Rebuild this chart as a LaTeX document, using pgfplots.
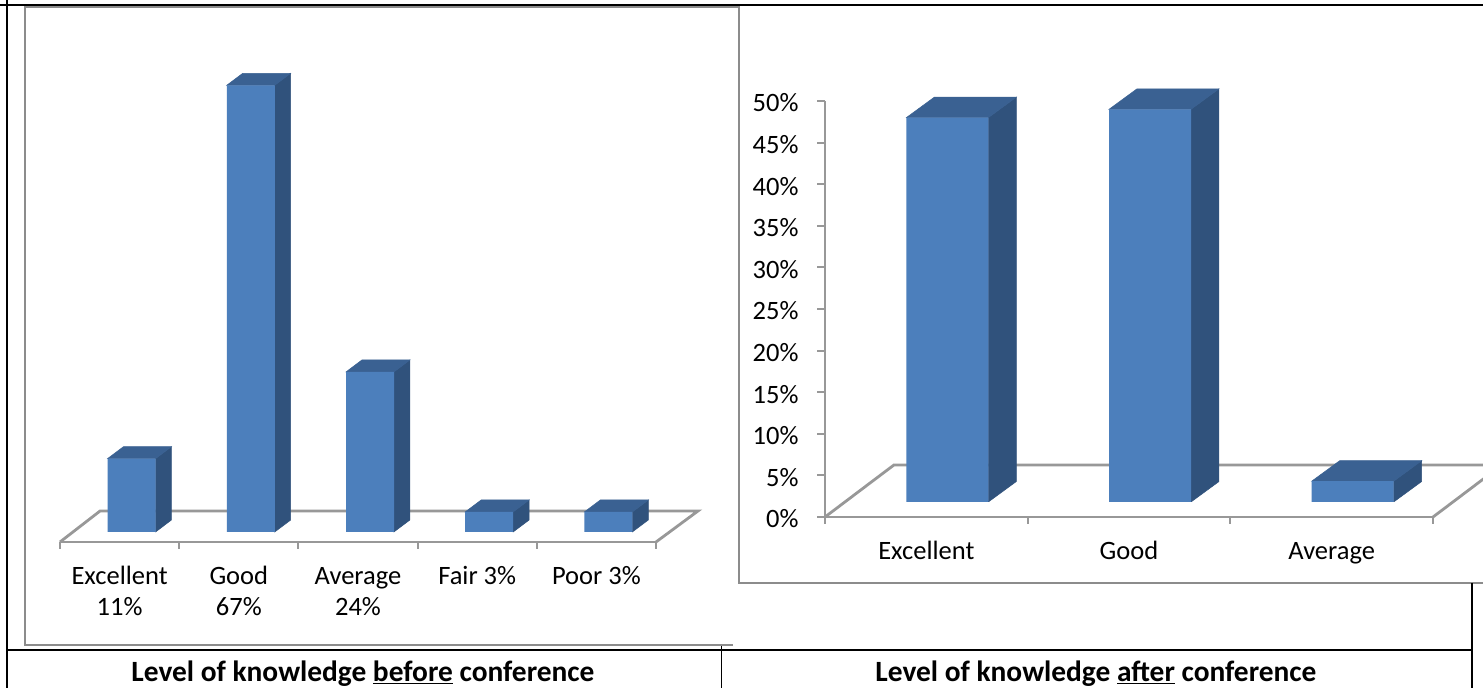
\documentclass[border=0pt]{standalone}
\usepackage{fontspec}
\setmainfont{Carlito}
\usepackage{pgfplots}
\pgfplotsset{compat=1.18}

\definecolor{barfront}{HTML}{4C7FBC}
\definecolor{bartop}{HTML}{3A6192}
\definecolor{barside}{HTML}{30527C}
\definecolor{axisgray}{HTML}{989898}
\definecolor{framegray}{HTML}{8C8C8C}

% side and top face of one 3D bar: center, base, value
\newcommand{\barfaces}[3]{%
  \pgfmathsetmacro\xa{#1+\off-\hw}%
  \pgfmathsetmacro\xb{#1+\off+\hw}%
  \pgfmathsetmacro\xc{\xb+\dpx}%
  \pgfmathsetmacro\xd{\xa+\dpx}%
  \pgfmathsetmacro\yb{#2+\dpy}%
  \pgfmathsetmacro\yt{#3+\dpy}%
  \addplot[fill=barside,draw=barside,line width=0.5pt] coordinates {(\xb,#2)(\xc,\yb)(\xc,\yt)(\xb,#3)} --cycle;
  \addplot[fill=bartop,draw=bartop,line width=0.5pt] coordinates {(\xa,#3)(\xb,#3)(\xc,\yt)(\xd,\yt)} --cycle;
}

\pgfplotsset{
  chart/.style={
    scale only axis,
    clip=false,
    xtick style={draw=none},
    minor tick length=7pt,
    major tick length=8pt,
    tick align=outside,
    minor x tick style={draw=axisgray,line width=2pt},
    y tick style={draw=axisgray,line width=2pt},
    axis line style={draw=axisgray,line width=2.8pt,-},
    tick label style={font=\fontsize{26.5}{31}\selectfont,text=black},
    x tick label style={align=center,yshift=-9pt},
    y tick label style={xshift=-15pt,yshift=-2pt},
  },
}

\begin{document}
\begin{tikzpicture}[x=1pt,y=1pt]
\clip (0,0) rectangle (1483,688);
\fill[white] (0,0) rectangle (1483,688);

% chart frames
\draw[framegray,line width=2pt] (733,43) -- (25,43) -- (25,681) -- (739,681);
\draw[framegray,line width=2pt] (739,682) -- (739,105) -- (1483,105);

% before conference
\begin{axis}[
  at={(60pt,146pt)},anchor=south west,
  width=596pt,height=476.67pt,
  xmin=-0.5,xmax=4.5,ymin=-1.5,ymax=70,
  axis x line=bottom,axis y line=none,
  xtick={0,1,2,3,4},
  minor xtick={-0.5,0.5,1.5,2.5,3.5,4.5},
  xticklabels={{\strut Excellent\\\strut 11\%},{\strut Good\\\strut 67\%},{\strut Average\\\strut 24\%},{\strut Fair 3\%},{\strut Poor 3\%}},
  chart,
]
\def\off{0.1}\def\hw{0.2013}\def\dpx{0.134}\def\dpy{1.8}
\addplot[axisgray,line width=2.8pt,no marks] coordinates {(-0.5,-1.5)(-0.164,3.15)(4.852,3.15)(4.5,-1.5)};
\barfaces{0}{0}{11}
\barfaces{1}{0}{67}
\barfaces{2}{0}{24}
\barfaces{3}{0}{3}
\barfaces{4}{0}{3}
\addplot[ybar,fill=barfront,draw=none,bar width=48pt,bar shift=12pt] coordinates {(0,11)(1,67)(2,24)(3,3)(4,3)};
\end{axis}

% after conference: axes and floor
\begin{axis}[
  at={(825pt,171pt)},anchor=south west,
  width=608pt,height=416pt,
  xmin=-0.5,xmax=2.5,ymin=0,ymax=50,
  axis x line=bottom,axis y line=left,
  xtick={0,1,2},
  minor xtick={-0.5,0.5,1.5,2.5},
  xticklabels={\strut Excellent,\strut Good,\strut Average},
  ytick={0,5,...,50},
  /pgf/number format/assume math mode=true,
  yticklabel={\pgfmathprintnumber{\tick}\%},
  chart,
]
\addplot[axisgray,line width=2.8pt,no marks] coordinates {(-0.5,0)(-0.16,6.25)(2.84,6.25)(2.5,0)};
\end{axis}

% after conference: bars, standing on the floor at 1.8
\begin{axis}[
  scale only axis,hide axis,
  at={(825pt,186pt)},anchor=south west,
  width=608pt,height=442.6pt,
  xmin=-0.5,xmax=2.5,ymin=1.8,ymax=55,
]
\def\off{0.1036}\def\hw{0.2023}\def\dpx{0.138}\def\dpy{2.46}
\barfaces{0}{1.8}{48}
\barfaces{1}{1.8}{49}
\barfaces{2}{1.8}{4.3}
\addplot[ybar,fill=barfront,draw=none,bar width=82pt,bar shift=21pt] coordinates {(0,48)(1,49)(2,4.3)};
\end{axis}

% table rules
\draw[black,line width=2pt] (0,682.5) -- (1483,682.5);
\draw[black,line width=2pt] (6.5,688) -- (6.5,0);
\draw[black,line width=1.6pt] (6.5,38) -- (1473,38);
\draw[black,line width=1.6pt] (721.5,42) -- (721.5,0);
\draw[black,line width=1.6pt] (1472,105) -- (1472,0);

\node[font=\bfseries\fontsize{29.4}{33}\selectfont] at (363,14) {Level of knowledge \underline{before} conference};
\node[font=\bfseries\fontsize{29.4}{33}\selectfont] at (1096,14) {Level of knowledge \underline{after} conference};
\end{tikzpicture}
\end{document}
